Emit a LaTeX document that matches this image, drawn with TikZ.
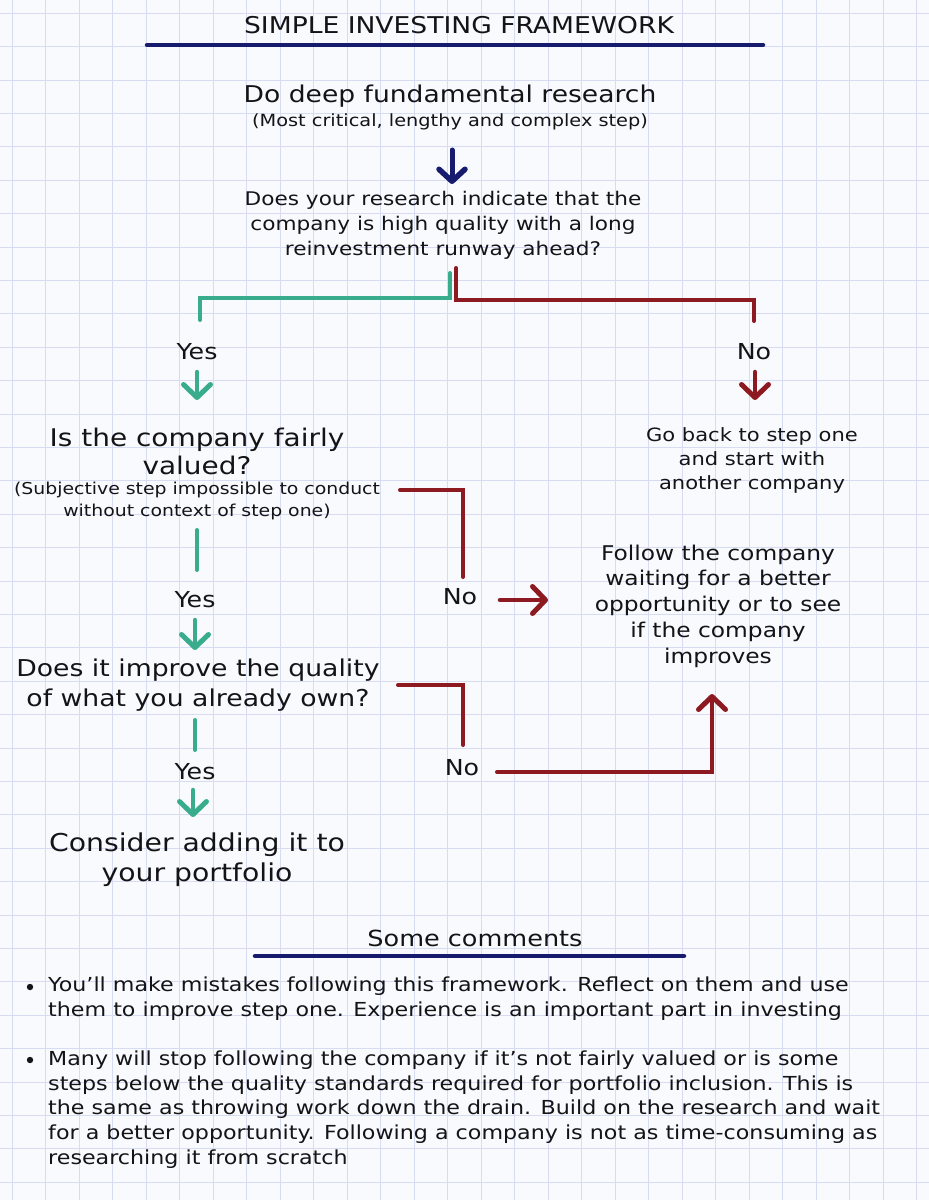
\documentclass[tikz,border=0pt]{standalone}
\usepackage{fontspec}
\setmainfont[FakeStretch=1.15]{DejaVu Sans}
\usetikzlibrary{arrows.meta}
\definecolor{navy}{RGB}{22,27,110}
\definecolor{teal2}{RGB}{58,172,142}
\definecolor{red2}{RGB}{140,26,32}
\definecolor{ink}{RGB}{20,20,22}
\definecolor{paper}{RGB}{248,250,254}
\definecolor{gridc}{RGB}{216,220,242}
\tikzset{
  txt/.style={inner sep=0pt, align=center, text=ink},
  fs/.style 2 args={font=\fontsize{#1}{#2}\selectfont},
  wire/.style={line width=4pt, line cap=round},
  tip/.style={line width=4.5pt, -{Straight Barb[length=13pt,width=27pt,line width=5pt,round]}},
  navyarrow/.style={navy, line width=5pt, line cap=round, -{Straight Barb[length=12pt,width=26pt,line width=5.5pt,round]}},
  uline/.style={navy, line width=4.5pt, line cap=round},
}
\begin{document}
\begin{tikzpicture}[x=1pt,y=-1pt]
\fill[paper] (0,0) rectangle (929,1200);
\useasboundingbox (0,0) rectangle (929,1200);
\foreach \i in {0,...,27} \draw[gridc, line width=1pt] ({12.4+33.5*\i},0) -- ++(0,1200);
\foreach \j in {0,...,35} \draw[gridc, line width=1pt] (0,{13.3+33.4*\j}) -- ++(929,0);

% title
\node[txt, fs={23.1}{28}] (title) at (459,25) {SIMPLE INVESTING FRAMEWORK};
\coordinate (tl) at (147,45); \coordinate (tr) at (763,45);
\draw[uline] (tl) -- (tr);

% step one
\node[txt, fs={23.1}{28}] (n1) at (450,96) {Do deep fundamental research};
\node[txt, fs={16.8}{21}] (n1s) at (450,122) {(Most critical, lengthy and complex step)};
\coordinate (a1s) at (452,150); \coordinate (a1e) at (452,184);
\draw[navyarrow] (a1s) -- (a1e);

\node[txt, fs={18.8}{25}] (q1) at (443,225) {Does your research indicate that the\\company is high quality with a long\\reinvestment runway ahead?};

% branches
\coordinate (ts) at (450,273); \coordinate (tc) at (450,298); \coordinate (tl2) at (200,298); \coordinate (te) at (200,320);
\draw[wire, teal2] (ts) -- (tc) -- (tl2) -- (te);
\coordinate (rs) at (456,268); \coordinate (rc) at (456,300); \coordinate (rr) at (754,300); \coordinate (re) at (754,321);
\draw[wire, red2] (rs) -- (rc) -- (rr) -- (re);

\node[txt, fs={22}{24}] (yes1) at (197,352) {Yes};
\node[txt, fs={22}{24}] (no1) at (754,352) {No};
\coordinate (ya1s) at (197,372); \coordinate (ya1e) at (197,400);
\draw[wire, teal2, tip] (ya1s) -- (ya1e);
\coordinate (na1s) at (755,372); \coordinate (na1e) at (755,400);
\draw[wire, red2, tip] (na1s) -- (na1e);

\node[txt, fs={18.3}{24}] (goback) at (752,460) {Go back to step one\\and start with\\another company};

% fairly valued
\node[txt, fs={24.3}{28}] (q2) at (197,451) {Is the company fairly\\valued?};
\node[txt, fs={16.4}{22}] (q2s) at (197,501) {(Subjective step impossible to conduct\\without context of step one)};
\coordinate (b1a) at (400,490); \coordinate (b1b) at (463,490); \coordinate (b1c) at (463,577);
\draw[wire, red2] (b1a) -- (b1b) -- (b1c);
\coordinate (t2s) at (197,530); \coordinate (t2e) at (197,570);
\draw[wire, teal2] (t2s) -- (t2e);
\node[txt, fs={22}{24}] (yes2) at (195,600) {Yes};
\node[txt, fs={22}{24}] (no2) at (460,597) {No};
\coordinate (ra2s) at (500,600); \coordinate (ra2e) at (548,600);
\draw[wire, red2, tip] (ra2s) -- (ra2e);
\coordinate (ya2s) at (195,620); \coordinate (ya2e) at (195,650);
\draw[wire, teal2, tip] (ya2s) -- (ya2e);

\node[txt, fs={20.3}{25.75}] (follow) at (718,606) {Follow the company\\waiting for a better\\opportunity or to see\\if the company\\improves};

% improve quality
\node[txt, fs={23.2}{30}] (q3) at (198,685) {Does it improve the quality\\of what you already own?};
\coordinate (b2a) at (398,685); \coordinate (b2b) at (463,685); \coordinate (b2c) at (463,745);
\draw[wire, red2] (b2a) -- (b2b) -- (b2c);
\coordinate (t3s) at (195,720); \coordinate (t3e) at (195,750);
\draw[wire, teal2] (t3s) -- (t3e);
\node[txt, fs={22}{24}] (yes3) at (195,772) {Yes};
\node[txt, fs={22}{24}] (no3) at (462,768) {No};
\coordinate (r3s) at (497,772); \coordinate (r3c) at (712,772); \coordinate (r3e) at (712,694);
\draw[wire, red2, tip, line width=4pt] (r3s) -- (r3c) -- (r3e);
\coordinate (ya3s) at (193,790); \coordinate (ya3e) at (193,817);
\draw[wire, teal2, tip] (ya3s) -- (ya3e);

\node[txt, fs={24.6}{30}] (final) at (197,860) {Consider adding it to\\your portfolio};

% comments
\node[txt, fs={22.2}{30}] (com) at (475,938) {Some comments};
\coordinate (cl) at (255,956); \coordinate (cr) at (684,956);
\draw[uline] (cl) -- (cr);

\fill[ink] (30,987) circle (3.2pt);
\node[txt, fs={19.3}{25}, align=left, anchor=base west] (b1) at (48,1016) {You'll make mistakes following this framework. Reflect on them and use\\them to improve step one. Experience is an important part in investing};
\fill[ink] (30,1060) circle (3.2pt);
\node[txt, fs={19.3}{24.6}, align=left, anchor=base west] (b2) at (48,1164) {Many will stop following the company if it’s not fairly valued or is some\\steps below the quality standards required for portfolio inclusion. This is\\the same as throwing work down the drain. Build on the research and wait\\for a better opportunity. Following a company is not as time-consuming as\\researching it from scratch};
\end{tikzpicture}
\end{document}
